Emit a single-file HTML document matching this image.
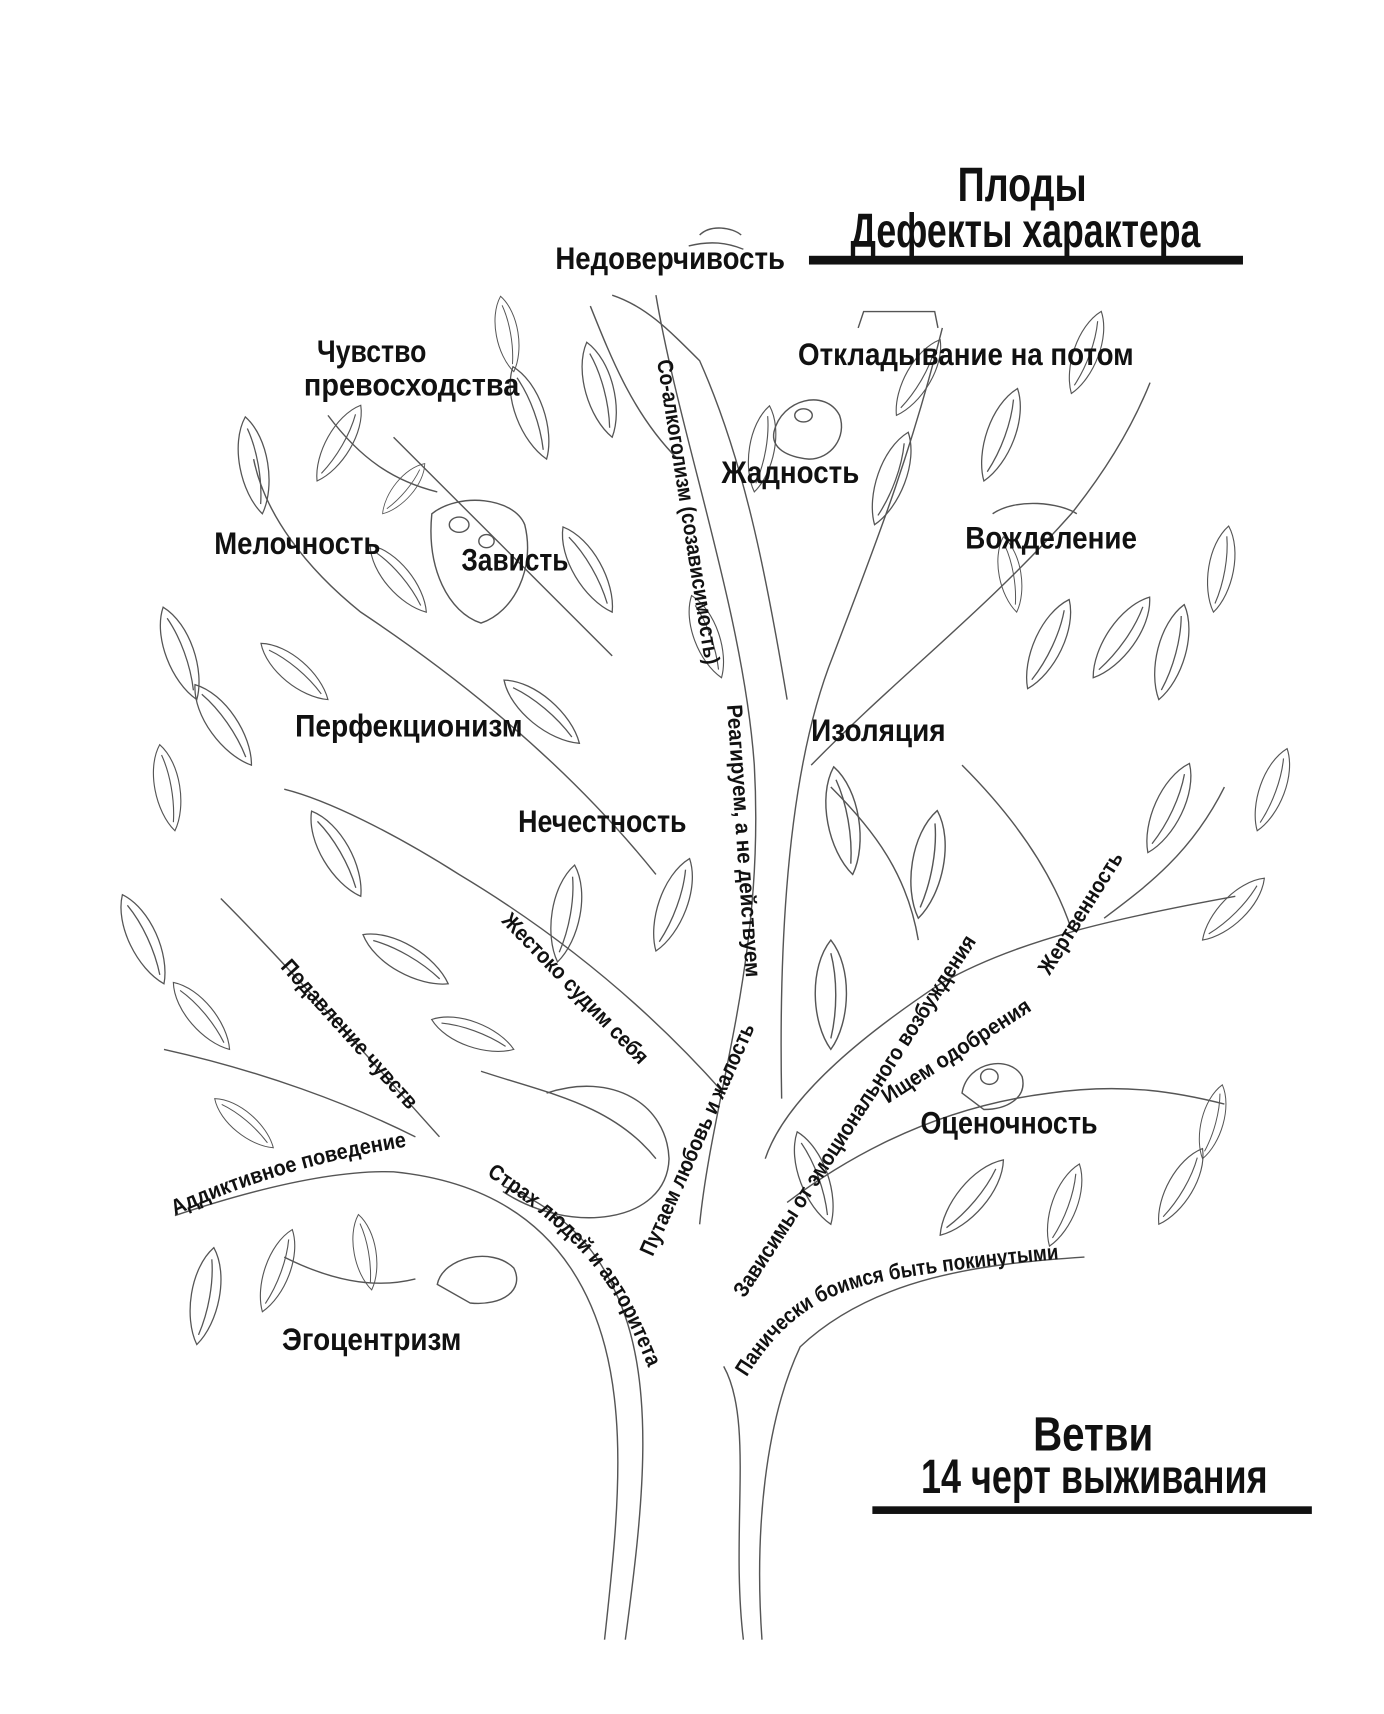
<!DOCTYPE html>
<html><head><meta charset="utf-8"><style>
html,body{margin:0;padding:0;background:#fff;}
svg{display:block}
text{font-family:"Liberation Sans","DejaVu Sans",sans-serif;font-weight:bold;fill:#111}
.big{font-size:44px}
.lab{font-size:29px}
.sm{font-size:20px}
</style></head><body>
<svg width="1384" height="1714" viewBox="0 0 1266 1568" preserveAspectRatio="none" xmlns="http://www.w3.org/2000/svg">
<defs>
<path id="leaf" d="M0,0 C18,-25 20,-75 0,-100 C-20,-75 -18,-25 0,0 Z M0,-10 C6,-35 6,-65 0,-88" fill="none"/>
<path id="p1" d="M160,1112 C230,1080 300,1060 378,1048"/>
<path id="p2" d="M445,1075 C500,1110 545,1150 570,1200 C585,1230 592,1250 598,1262"/>
<path id="p3" d="M683,1260 C720,1200 760,1180 820,1170 C880,1160 930,1155 990,1150"/>
</defs>
<g fill="none" stroke="#555" stroke-width="1.3">
<path d="M553,1500 C566,1380 582,1250 522,1160 C482,1100 420,1078 360,1072 C300,1070 220,1092 160,1112"/>
<path d="M572,1500 C588,1380 602,1262 562,1180 C540,1130 500,1100 460,1085"/>
<path d="M680,1500 C668,1400 690,1300 662,1250"/>
<path d="M697,1500 C690,1400 700,1300 732,1232 C800,1168 900,1156 992,1150"/>
<path d="M640,1120 C652,1000 700,880 690,700 C680,560 622,400 600,270"/>
<path d="M715,1005 C712,850 722,700 762,600 C800,500 832,420 862,300"/>
<path d="M700,1060 C720,1000 800,940 860,900 C930,860 1020,840 1130,820"/>
<path d="M662,1000 C600,930 520,860 420,800 C360,762 300,732 260,722"/>
<path d="M402,1040 C332,962 262,882 202,822"/>
<path d="M600,800 C520,700 420,620 330,560 C280,520 242,470 232,420"/>
<path d="M560,600 C480,520 420,460 360,400"/>
<path d="M742,700 C820,620 900,560 980,470 C1020,420 1040,380 1052,350"/>
<path d="M720,640 C700,520 680,420 640,330 C610,300 590,280 560,270"/>
<path d="M720,1100 C800,1040 880,1010 960,1000 C1030,990 1080,1000 1120,1010"/>
<path d="M380,1040 C320,1010 240,980 150,960"/>
<path d="M440,980 C500,1000 560,1010 600,1060"/>
<path d="M500,1000 C560,980 610,1010 612,1060 C610,1120 520,1130 460,1090"/>
<path d="M1120,720 C1090,780 1050,810 1010,840"/>
<path d="M540,280 C560,330 580,380 620,420"/>
<path d="M300,380 C330,420 360,440 400,450"/>
<path d="M880,700 C920,740 960,790 980,850"/>
<path d="M760,720 C800,760 830,800 840,860"/>
<path d="M260,1150 C300,1170 340,1180 380,1170"/>
<path d="M395,470 C420,450 470,455 480,480 C490,520 470,560 440,570 C410,560 390,520 395,470 Z"/>
<ellipse cx="420" cy="480" rx="9" ry="7"/><ellipse cx="445" cy="495" rx="7" ry="6"/>
<path d="M708,395 C715,365 755,355 768,380 C775,400 760,420 740,420 C720,418 705,410 708,395 Z"/>
<ellipse cx="735" cy="380" rx="8" ry="6"/>
<path d="M785,300 L790,285 L855,285 L858,300"/>
<path d="M880,1000 C885,970 925,965 935,985 C940,1005 920,1015 900,1015 Z"/>
<ellipse cx="905" cy="985" rx="8" ry="7"/>
<path d="M400,1175 C405,1150 450,1140 470,1160 C480,1180 460,1195 430,1192 Z"/>
<path d="M640,215 C650,205 670,208 678,215 M630,225 C650,220 665,222 680,228"/>
<path d="M908,470 C930,455 970,460 985,470"/>
</g>
<g stroke="#555" stroke-width="1.3" fill="none">
<use href="#leaf" transform="translate(240,470) rotate(-10) scale(0.9)"/>
<use href="#leaf" transform="translate(290,440) rotate(30) scale(0.8)"/>
<use href="#leaf" transform="translate(180,640) rotate(-20) scale(0.9)"/>
<use href="#leaf" transform="translate(230,700) rotate(-35) scale(0.9)"/>
<use href="#leaf" transform="translate(160,760) rotate(-10) scale(0.8)"/>
<use href="#leaf" transform="translate(300,640) rotate(-50) scale(0.8)"/>
<use href="#leaf" transform="translate(150,900) rotate(-25) scale(0.9)"/>
<use href="#leaf" transform="translate(210,960) rotate(-40) scale(0.8)"/>
<use href="#leaf" transform="translate(180,1230) rotate(10) scale(0.9)"/>
<use href="#leaf" transform="translate(240,1200) rotate(20) scale(0.8)"/>
<use href="#leaf" transform="translate(340,1180) rotate(-10) scale(0.7)"/>
<use href="#leaf" transform="translate(330,820) rotate(-30) scale(0.9)"/>
<use href="#leaf" transform="translate(410,900) rotate(-60) scale(0.9)"/>
<use href="#leaf" transform="translate(470,960) rotate(-70) scale(0.8)"/>
<use href="#leaf" transform="translate(390,560) rotate(-40) scale(0.8)"/>
<use href="#leaf" transform="translate(500,420) rotate(-20) scale(0.9)"/>
<use href="#leaf" transform="translate(470,340) rotate(-10) scale(0.7)"/>
<use href="#leaf" transform="translate(560,560) rotate(-30) scale(0.9)"/>
<use href="#leaf" transform="translate(530,680) rotate(-50) scale(0.9)"/>
<use href="#leaf" transform="translate(560,400) rotate(-15) scale(0.9)"/>
<use href="#leaf" transform="translate(510,880) rotate(10) scale(0.9)"/>
<use href="#leaf" transform="translate(600,870) rotate(20) scale(0.9)"/>
<use href="#leaf" transform="translate(690,450) rotate(10) scale(0.8)"/>
<use href="#leaf" transform="translate(800,480) rotate(20) scale(0.9)"/>
<use href="#leaf" transform="translate(820,380) rotate(30) scale(0.8)"/>
<use href="#leaf" transform="translate(900,440) rotate(20) scale(0.9)"/>
<use href="#leaf" transform="translate(940,630) rotate(25) scale(0.9)"/>
<use href="#leaf" transform="translate(1000,620) rotate(35) scale(0.9)"/>
<use href="#leaf" transform="translate(1060,640) rotate(15) scale(0.9)"/>
<use href="#leaf" transform="translate(1050,780) rotate(25) scale(0.9)"/>
<use href="#leaf" transform="translate(1100,860) rotate(45) scale(0.8)"/>
<use href="#leaf" transform="translate(780,800) rotate(-10) scale(1.0)"/>
<use href="#leaf" transform="translate(840,840) rotate(10) scale(1.0)"/>
<use href="#leaf" transform="translate(760,960) rotate(0) scale(1.0)"/>
<use href="#leaf" transform="translate(860,1130) rotate(40) scale(0.9)"/>
<use href="#leaf" transform="translate(960,1140) rotate(20) scale(0.8)"/>
<use href="#leaf" transform="translate(1060,1120) rotate(30) scale(0.8)"/>
<use href="#leaf" transform="translate(760,1120) rotate(-20) scale(0.9)"/>
<use href="#leaf" transform="translate(980,360) rotate(20) scale(0.8)"/>
<use href="#leaf" transform="translate(930,560) rotate(-10) scale(0.7)"/>
<use href="#leaf" transform="translate(660,620) rotate(-20) scale(0.8)"/>
<use href="#leaf" transform="translate(350,470) rotate(40) scale(0.6)"/>
<use href="#leaf" transform="translate(1110,560) rotate(10) scale(0.8)"/>
<use href="#leaf" transform="translate(1150,760) rotate(20) scale(0.8)"/>
<use href="#leaf" transform="translate(1100,1060) rotate(15) scale(0.7)"/>
<use href="#leaf" transform="translate(250,1050) rotate(-50) scale(0.7)"/>
</g>
<g>
<text class="big" x="935" y="184" text-anchor="middle" textLength="118" lengthAdjust="spacingAndGlyphs">Плоды</text>
<text class="big" x="938" y="226" text-anchor="middle" textLength="320" lengthAdjust="spacingAndGlyphs">Дефекты характера</text>
<rect x="740" y="234" width="397" height="8" fill="#111"/>
<text class="big" x="1000" y="1327" text-anchor="middle" textLength="110" lengthAdjust="spacingAndGlyphs">Ветви</text>
<text class="big" x="1001" y="1366" text-anchor="middle" textLength="317" lengthAdjust="spacingAndGlyphs">14 черт выживания</text>
<rect x="798" y="1378" width="402" height="7" fill="#111"/>
<text class="lab" x="508" y="246" textLength="210" lengthAdjust="spacingAndGlyphs">Недоверчивость</text>
<text class="lab" x="290" y="331" textLength="100" lengthAdjust="spacingAndGlyphs">Чувство</text>
<text class="lab" x="278" y="362" textLength="197" lengthAdjust="spacingAndGlyphs">превосходства</text>
<text class="lab" x="730" y="334" textLength="307" lengthAdjust="spacingAndGlyphs">Откладывание на потом</text>
<text class="lab" x="660" y="442" textLength="126" lengthAdjust="spacingAndGlyphs">Жадность</text>
<text class="lab" x="196" y="507" textLength="152" lengthAdjust="spacingAndGlyphs">Мелочность</text>
<text class="lab" x="422" y="522" textLength="98" lengthAdjust="spacingAndGlyphs">Зависть</text>
<text class="lab" x="883" y="502" textLength="157" lengthAdjust="spacingAndGlyphs">Вожделение</text>
<text class="lab" x="270" y="674" textLength="208" lengthAdjust="spacingAndGlyphs">Перфекционизм</text>
<text class="lab" x="742" y="678" textLength="123" lengthAdjust="spacingAndGlyphs">Изоляция</text>
<text class="lab" x="474" y="761" textLength="154" lengthAdjust="spacingAndGlyphs">Нечестность</text>
<text class="lab" x="842" y="1037" textLength="162" lengthAdjust="spacingAndGlyphs">Оценочность</text>
<text class="lab" x="258" y="1235" textLength="164" lengthAdjust="spacingAndGlyphs">Эгоцентризм</text>
<text class="sm" transform="translate(601,330) rotate(81)" textLength="282" lengthAdjust="spacingAndGlyphs">Со-алкоголизм (созависимость)</text>
<text class="sm" transform="translate(665,645) rotate(86)" textLength="250" lengthAdjust="spacingAndGlyphs">Реагируем, а не действуем</text>
<text class="sm" transform="translate(458,843) rotate(46)" textLength="183" lengthAdjust="spacingAndGlyphs">Жестоко судим себя</text>
<text class="sm" transform="translate(256,885) rotate(48)" textLength="176" lengthAdjust="spacingAndGlyphs">Подавление чувств</text>
<text class="sm" transform="translate(597,1150) rotate(-66)" textLength="230" lengthAdjust="spacingAndGlyphs">Путаем любовь и жалость</text>
<text class="sm" transform="translate(681,1188) rotate(-57)" textLength="390" lengthAdjust="spacingAndGlyphs">Зависимы от эмоционального возбуждения</text>
<text class="sm" transform="translate(812,1010) rotate(-33)" textLength="158" lengthAdjust="spacingAndGlyphs">Ищем одобрения</text>
<text class="sm" transform="translate(960,893) rotate(-58)" textLength="128" lengthAdjust="spacingAndGlyphs">Жертвенность</text>
<text class="sm"><textPath href="#p1" textLength="222" lengthAdjust="spacingAndGlyphs">Аддиктивное поведение</textPath></text>
<text class="sm"><textPath href="#p2" textLength="235" lengthAdjust="spacingAndGlyphs">Страх людей и авторитета</textPath></text>
<text class="sm"><textPath href="#p3" textLength="320" lengthAdjust="spacingAndGlyphs">Панически боимся быть покинутыми</textPath></text>
</g>
</svg>
</body></html>
